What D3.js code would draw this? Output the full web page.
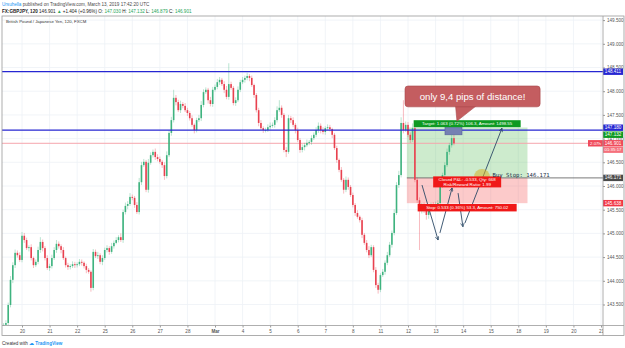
<!DOCTYPE html>
<html>
<head>
<meta charset="utf-8">
<script src="https://cdnjs.cloudflare.com/ajax/libs/d3/7.8.5/d3.min.js"></script>
<style>
body { margin:0; background:#fff; }
svg { display:block; font-family:"Liberation Sans", Arial, sans-serif; }
</style>
</head>
<body>
<div id="chart"></div>
<script>
// GBPJPY 2h closes, Feb 19 (08:00) -> Mar 13 (16:00), one row per day
var closes = [
  143.07,143.11,143.49,144.02,144.33,144.59,144.54,144.44,
  144.95,144.86,144.69,144.71,144.48,144.33,144.40,144.65,144.82,144.69,144.48,144.27,
  144.31,144.48,144.65,144.78,144.73,144.65,144.48,144.33,144.29,144.31,144.35,144.33,
  144.35,144.40,144.38,144.31,144.23,144.19,143.85,144.61,144.52,144.54,144.40,144.48,
  144.65,144.69,144.61,144.73,144.80,144.86,144.92,144.86,145.45,145.58,145.62,145.77,
  145.75,145.60,145.45,146.08,146.44,146.51,145.92,146.49,146.65,146.72,146.61,146.57,
  146.51,146.44,146.21,146.65,147.12,147.39,147.86,147.77,147.60,147.73,147.69,147.60,
  147.54,147.43,147.29,147.18,147.39,147.43,147.71,147.98,148.03,147.81,147.73,148.03,
  148.09,148.19,148.24,148.15,148.03,147.88,148.15,148.07,147.75,147.81,148.03,148.19,
  148.24,148.28,148.32,148.28,148.13,147.92,147.60,147.33,147.22,147.18,147.18,147.24,
  147.27,147.29,147.39,147.60,147.65,147.50,146.76,146.72,147.43,147.39,147.29,147.18,
  146.97,146.76,146.82,146.86,146.91,146.93,147.01,147.08,147.18,147.27,147.18,147.14,
  147.22,147.24,147.20,147.08,146.80,146.55,146.34,146.13,145.92,146.13,145.98,145.81,
  145.60,145.43,145.35,145.28,144.97,144.80,144.65,144.54,144.71,144.23,143.91,143.81,
  144.12,144.19,144.38,144.54,144.76,145.01,145.43,146.02,146.23,147.33,147.18,147.29,
  147.08,146.97,147.22,146.13,145.70,145.49,145.60,145.49,145.39,145.54,145.60,145.58,
  145.62,145.64,146.02,146.23,146.44,146.72,146.86,147.01,146.90
];
var firstOpen = 143.02;
// wick length above / below the body, in pips (0.01)
var wickHi = [
  4,6,5,8,6,7,5,6,
  8,6,5,4,6,3,5,7,10,5,4,6,
  5,7,6,8,5,4,6,3,5,4,6,5,
  4,6,5,3,5,4,3,6,5,7,4,6,
  5,6,4,7,5,6,4,8,5,7,6,8,
  5,4,6,9,7,6,4,8,6,5,7,6,
  5,4,6,8,5,7,17,6,5,7,4,6,
  5,4,6,3,5,7,8,6,5,4,7,6,
  5,7,6,4,6,8,44,5,4,6,7,5,
  6,5,7,4,5,3,4,5,6,4,5,6,
  7,5,6,8,16,5,4,6,7,5,6,4,
  5,4,6,5,7,4,6,5,6,7,5,6,
  4,6,5,3,4,5,3,6,4,7,5,4,
  5,4,6,3,5,4,6,8,5,4,6,5,
  4,6,5,7,6,5,8,6,9,12,48,7,
  6,5,10,4,5,6,4,5,6,4,5,6,
  5,6,7,5,6,7,5,8,10
];
var wickLo = [
  5,4,6,5,7,6,5,4,
  5,6,4,7,5,6,4,5,6,7,5,4,
  6,5,4,6,5,7,4,5,6,5,4,6,
  5,4,6,5,7,4,8,5,4,6,5,7,
  4,5,6,4,5,3,5,4,6,5,7,4,
  5,6,4,5,6,4,5,6,4,5,6,5,
  4,6,8,5,4,6,5,7,4,6,5,4,
  6,5,4,7,5,4,6,5,4,7,5,6,
  4,5,6,4,7,5,6,4,5,6,4,5,
  4,6,5,7,4,6,5,7,4,6,5,4,
  5,4,6,5,4,6,5,11,4,6,5,7,
  4,6,5,7,4,5,6,4,5,6,7,5,
  6,4,5,7,4,6,5,4,8,5,6,4,
  5,6,4,5,7,4,5,6,4,5,6,8,
  5,4,6,5,4,6,5,4,6,5,7,4,
  5,6,4,5,6,84,7,6,10,8,6,7,
  6,5,4,6,5,4,6,5,4
];
var dayLabels = ["20","21","22","25","26","27","28","Mar","4","5","6","7","8","11","12","13","14","15","18","19","20","21"];
var priceTicks = [143.5,144,144.5,145,145.5,146,146.5,147,147.5,148,148.5,149,149.5];
var levelLines = [148.411, 147.180];
var lastPrice = 146.901;
var entry = 146.171, stop = 145.638, target = 147.234;
var posFrom = 175.5, posTo = 228;
// arrows drawn on the chart: [bar, price] -> [bar, price]
var arrows = [
  [[182.1,146.02],[189.1,144.86]],
  [[189.9,145.01],[195.2,145.96]],
  [[197.8,145.85],[199.9,145.14]],
  [[200.8,145.22],[216.9,147.22]]
];

var W = 625, H = 348;
var L = 2, R = 603, T = 16, B = 325.5;

var svg = d3.select("#chart").append("svg").attr("width", W).attr("height", H);

var x = d3.scaleLinear().domain([8, 260]).range([22, 601]);
var y = d3.scaleLinear().domain([143.5, 149.5]).range([304.5, 20.1]);

var candles = closes.map(function(c, i) {
  var o = i ? closes[i-1] : firstOpen;
  return {i:i, o:o, c:c,
    h: Math.max(o,c) + wickHi[i]/100,
    l: Math.min(o,c) - wickLo[i]/100};
});
var dayIdx = dayLabels.map(function(d, k) { return 8 + 12*k; });

svg.append("clipPath").attr("id","clip").append("rect")
  .attr("x",L).attr("y",T).attr("width",R-L).attr("height",B-T);

// header
var h1 = svg.append("text").attr("x",2).attr("y",6).attr("font-size","4.6px");
h1.append("tspan").attr("fill","#2196f3").text("Ursuhella");
h1.append("tspan").attr("fill","#4a4a4a").text(" published on TradingView.com, March 13, 2019 17:42:20 UTC");
var h2 = svg.append("text").attr("x",2).attr("y",12.5).attr("font-size","4.6px").attr("fill","#222");
h2.append("tspan").attr("font-weight","700").text("FX:GBPJPY, 120 ");
h2.append("tspan").text("146.901 ");
h2.append("tspan").attr("fill","#26a65b").text("\u25B2");
h2.append("tspan").text(" +1.404 (+0.96%) O: ");
h2.append("tspan").attr("fill","#26a65b").text("147.030");
h2.append("tspan").text(" H: ");
h2.append("tspan").attr("fill","#26a65b").text("147.132");
h2.append("tspan").text(" L: ");
h2.append("tspan").attr("fill","#26a65b").text("146.879");
h2.append("tspan").text(" C: ");
h2.append("tspan").attr("fill","#26a65b").text("146.901");

var plot = svg.append("g").attr("clip-path","url(#clip)");

// grid
plot.selectAll(".vg").data(dayIdx).enter().append("line")
  .attr("x1",function(d){return x(d);}).attr("x2",function(d){return x(d);})
  .attr("y1",T).attr("y2",B).attr("stroke","#edf1f6").attr("stroke-width",0.8);
plot.selectAll(".hg").data(priceTicks).enter().append("line")
  .attr("x1",L).attr("x2",R)
  .attr("y1",function(d){return y(d);}).attr("y2",function(d){return y(d);})
  .attr("stroke","#edf1f6").attr("stroke-width",0.8);

plot.append("text").attr("x",6).attr("y",23).attr("font-size","4.3px").attr("fill","#333")
  .text("British Pound / Japanese Yen, 120, FXCM");

// position zones
plot.append("rect").attr("x",x(posFrom)).attr("width",x(posTo)-x(posFrom))
  .attr("y",y(target)).attr("height",y(entry)-y(target)).attr("fill","rgba(90,190,90,0.3)");
plot.append("rect").attr("x",x(posFrom)).attr("width",x(posTo)-x(posFrom))
  .attr("y",y(entry)).attr("height",y(stop)-y(entry)).attr("fill","rgba(245,90,90,0.32)");

// horizontal lines
plot.append("line").attr("x1",L).attr("x2",R).attr("y1",y(lastPrice)).attr("y2",y(lastPrice))
  .attr("stroke","#f5a5ad").attr("stroke-width",1);
plot.append("line").attr("x1",x(posFrom)).attr("x2",R).attr("y1",y(entry)).attr("y2",y(entry))
  .attr("stroke","#6b6b6b").attr("stroke-width",0.9);

// candles
var up = "#3fb37f", down = "#e8414f";
var cg = plot.selectAll(".c").data(candles).enter().append("g");
cg.append("line")
  .attr("x1",function(d){return x(d.i);}).attr("x2",function(d){return x(d.i);})
  .attr("y1",function(d){return y(d.h);}).attr("y2",function(d){return y(d.l);})
  .attr("stroke",function(d){return d.c>=d.o?up:down;}).attr("stroke-opacity",0.45).attr("stroke-width",0.8);
cg.append("rect")
  .attr("x",function(d){return x(d.i)-0.8;}).attr("width",1.6)
  .attr("y",function(d){return y(Math.max(d.o,d.c));})
  .attr("height",function(d){return Math.max(0.6, Math.abs(y(d.o)-y(d.c)));})
  .attr("fill",function(d){return d.c>=d.o?up:down;});

plot.selectAll(".lv").data(levelLines).enter().append("line")
  .attr("x1",L).attr("x2",R)
  .attr("y1",function(d){return y(d);}).attr("y2",function(d){return y(d);})
  .attr("stroke","#2626d2").attr("stroke-width",1.2);

// distance box
plot.append("rect").attr("x",x(192.1)).attr("width",x(199.5)-x(192.1))
  .attr("y",y(147.29)).attr("height",y(147.08)-y(147.29))
  .attr("fill","#7581b3").attr("stroke","#56629a").attr("stroke-width",0.6);

// arrows
svg.append("defs").append("marker").attr("id","ah")
  .attr("viewBox","0 0 10 10").attr("refX",9).attr("refY",5)
  .attr("markerWidth",5).attr("markerHeight",5).attr("orient","auto")
  .append("path").attr("d","M1,1L9,5L1,9").attr("fill","none").attr("stroke","#2c4966").attr("stroke-width",1.6);
plot.selectAll(".ar").data(arrows).enter().append("line")
  .attr("x1",function(d){return x(d[0][0]);}).attr("y1",function(d){return y(d[0][1]);})
  .attr("x2",function(d){return x(d[1][0]);}).attr("y2",function(d){return y(d[1][1]);})
  .attr("stroke","#2c4966").attr("stroke-width",0.9).attr("marker-end","url(#ah)");

// circle
plot.append("circle").attr("cx",x(208.2)).attr("cy",y(146.19)).attr("r",8)
  .attr("fill","rgba(212,178,40,0.55)");

// position labels
var mid = x((posFrom+posTo)/2);
function tag(cx, cy, w, h, fill, lines) {
  plot.append("rect").attr("x",cx-w/2).attr("y",cy-h/2).attr("width",w).attr("height",h).attr("fill",fill);
  lines.forEach(function(t, k) {
    plot.append("text").attr("x",cx).attr("y",cy - (lines.length-1)*2.6 + k*5.2 + 1.6)
      .attr("text-anchor","middle").attr("font-size","4.4px").attr("fill","#fff").text(t);
  });
}
tag(mid, y(target)-3.8, 107, 7, "#0d9a22", ["Target: 1.063 (0.72%) 106.3, Amount: 1498.55"]);
tag(mid, y(entry)+4, 68, 11, "#f01818", ["Closed P&L: -0.533, Qty: 668", "Risk/Reward Ratio: 1.99"]);
tag(mid, y(stop)+4.5, 99, 7.5, "#f01818", ["Stop: 0.533 (0.36%) 53.3, Amount: 750.02"]);
plot.append("text").attr("x",x(posTo)-35).attr("y",y(entry)-0.6)
  .attr("font-family","DejaVu Sans Mono, monospace").attr("font-size","5.6px").attr("fill","#22304a")
  .text("Buy Stop: 146.171");

// callout
var cx0 = x(174.7), cx1 = x(233.5), cy0 = y(148.11), cy1 = y(147.67);
plot.append("path")
  .attr("d","M"+(cx0+22*2.2976)+","+(cy1-1)+"L"+x(197.3)+","+y(147.37)+"L"+(cx0+31*2.2976)+","+(cy1-1)+"Z")
  .attr("fill","#c45d60").attr("stroke","#a8474a").attr("stroke-width",0.6);
plot.append("rect").attr("x",cx0).attr("y",cy0).attr("width",cx1-cx0).attr("height",cy1-cy0)
  .attr("rx",3).attr("fill","#c45d60").attr("stroke","#a8474a").attr("stroke-width",0.6);
plot.append("text").attr("x",(cx0+cx1)/2).attr("y",(cy0+cy1)/2+3.4)
  .attr("text-anchor","middle").attr("font-size","9.6px").attr("fill","#fff")
  .text("only 9,4 pips of distance!");

// x axis
var gx = svg.append("g").attr("transform","translate(0,"+B+")")
  .call(d3.axisBottom(x).tickValues(dayIdx).tickSize(2).tickFormat(function(d,k){return dayLabels[k];}));
gx.select(".domain").remove();
gx.selectAll("line").attr("stroke","#999");
gx.selectAll("text").attr("font-size","4.6px").attr("fill","#555").attr("y",4.5)
  .attr("font-weight",function(d,k){return dayLabels[k]=="Mar"?"700":"400";});

// right axis panel
svg.append("rect").attr("x",R).attr("y",T).attr("width",W-1-R).attr("height",B+10-T).attr("fill","#fff");
var gy = svg.append("g").attr("transform","translate("+R+",0)")
  .call(d3.axisRight(y).tickValues(priceTicks).tickSize(2).tickFormat(d3.format(".3f")));
gy.select(".domain").remove();
gy.selectAll("line").attr("stroke","#999");
gy.selectAll("text").attr("font-size","4.6px").attr("fill","#555").attr("x",4);

// price tags on the axis
var tags = [
  {p:148.411, fill:"#2626d2", t:"148.411"},
  {p:147.180, fill:"#2626d2", t:"147.180"},
  {p:147.132, fill:"#0d9a22", t:"147.132"},
  {p:lastPrice, fill:"#f04a5a", t:"146.901"},
  {p:entry, fill:"#4a4a4a", t:"146.171"},
  {p:stop, fill:"#f23645", t:"145.638"}
];
tags.forEach(function(d){ d.y = y(d.p); });
tags.sort(function(a,b){return a.y-b.y;});
for (var k=1; k<tags.length; k++) {
  var gap = tags[k].y - tags[k-1].y;
  if (gap < 7) { tags[k-1].y -= (7-gap)/2; tags[k].y += (7-gap)/2; }
}
tags.forEach(function(d) {
  svg.append("rect").attr("x",R).attr("y",d.y-3.2).attr("width",20).attr("height",6.4).attr("fill",d.fill);
  svg.append("text").attr("x",R+10).attr("y",d.y+1.6).attr("text-anchor","middle")
    .attr("font-size","4.6px").attr("fill","#fff").text(d.t);
});
// countdown + bar time next to the last price
var ly = y(lastPrice);
svg.append("rect").attr("x",R-15).attr("y",ly-3.2).attr("width",15).attr("height",6.4).attr("fill","#f04a5a");
svg.append("text").attr("x",R-7.5).attr("y",ly+1.6).attr("text-anchor","middle")
  .attr("font-size","4.4px").attr("fill","#fff").text("2.07h");
svg.append("rect").attr("x",R).attr("y",ly+3.6).attr("width",20).attr("height",6).attr("fill","#f5707c");
svg.append("text").attr("x",R+10).attr("y",ly+8.2).attr("text-anchor","middle")
  .attr("font-size","4.4px").attr("fill","#fff").text("01:35:17");

// frame
svg.append("rect").attr("x",L).attr("y",T).attr("width",W-1-L).attr("height",B+10-T)
  .attr("fill","none").attr("stroke","#9a9a9a").attr("stroke-width",0.8);
svg.append("line").attr("x1",R).attr("x2",R).attr("y1",T).attr("y2",B+10).attr("stroke","#9a9a9a").attr("stroke-width",0.8);
svg.append("line").attr("x1",L).attr("x2",W-1).attr("y1",B).attr("y2",B).attr("stroke","#9a9a9a").attr("stroke-width",0.8);

// footer
var ft = svg.append("text").attr("x",2).attr("y",344.5).attr("font-size","4.6px");
ft.append("tspan").attr("fill","#333").text("Created with ");
ft.append("tspan").attr("fill","#2196f3").attr("font-weight","700").text("\u2601 TradingView");
</script>
</body>
</html>
